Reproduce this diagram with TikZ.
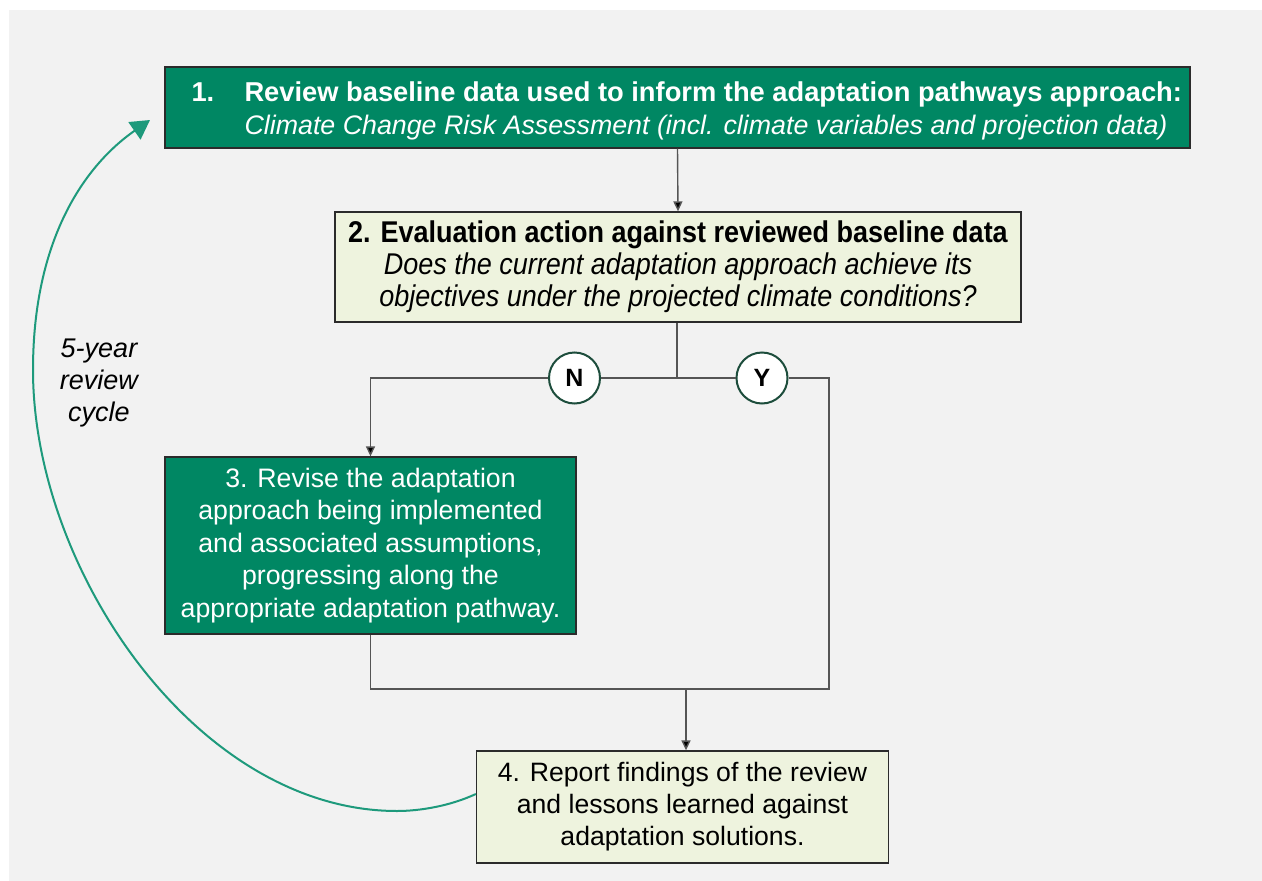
\documentclass[tikz,border=0pt]{standalone}
\usepackage{fontspec}
\setmainfont{Liberation Sans}
\newfontfamily\narrowfont[FakeStretch=0.9]{Liberation Sans}
\usetikzlibrary{arrows.meta}
\definecolor{bggrey}{HTML}{F2F2F2}
\definecolor{dkgreen}{HTML}{008763}
\definecolor{ltgreen}{HTML}{EEF3DE}
\definecolor{cyclegreen}{HTML}{1E9A7C}
\definecolor{circedge}{HTML}{1D4D3C}
\definecolor{boxedge}{HTML}{2B2B2B}
\definecolor{linegrey}{HTML}{555555}
\tikzset{
  darkbox/.style={draw=boxedge, line width=1.3pt, fill=dkgreen, text=white, inner sep=0pt, align=center},
  lightbox/.style={draw=boxedge, line width=1.3pt, fill=ltgreen, text=black, inner sep=0pt, align=center},
  decision/.style={circle, draw=circedge, line width=2pt, fill=white, minimum size=51pt, inner sep=0pt, font=\fontsize{25}{28}\selectfont\bfseries},
  conn/.style={draw=linegrey, line width=1.4pt},
  connarrow/.style={conn, -{Triangle[width=9pt,length=10pt,fill=black]}},
  cycle/.style={draw=cyclegreen, line width=2pt, -{Triangle[width=21pt,length=19pt]}},
}
\begin{document}
\begin{tikzpicture}[x=1pt,y=-1pt]
\useasboundingbox (0,0) rectangle (1262,881);
\fill[white] (0,0) rectangle (1262,881);
\fill[bggrey] (9,10) rectangle (1262,881);

\node[darkbox, minimum width=1025pt, minimum height=81pt] (b1) at (677.5,107.5) {};
\node[text=white, anchor=west, align=left, font=\fontsize{27.3}{33}\selectfont] (t1) at (188,110.5)
  {\textbf{\makebox[53pt][l]{1.}Review baseline data used to inform the adaptation pathways approach:}\\
   \hspace*{53pt}{\fontsize{26.8}{33}\selectfont\itshape Climate Change Risk Assessment (incl. climate variables and projection data)}};

\node[lightbox, minimum width=686pt, minimum height=110pt,
  font=\narrowfont\fontsize{30}{32}\selectfont] (b2) at (678,267)
  {\textbf{2. Evaluation action against reviewed baseline data}\\
   \textit{Does the current adaptation approach achieve its}\\
   \textit{objectives under the projected climate conditions?}};

\node[darkbox, minimum width=411pt, minimum height=177pt,
  font=\fontsize{26.7}{32.5}\selectfont] (b3) at (370.5,545.5)
  {3. Revise the adaptation\\approach being implemented\\and associated assumptions,\\progressing along the\\appropriate adaptation pathway.};

\node[lightbox, minimum width=412pt, minimum height=112pt,
  font=\fontsize{26.6}{32}\selectfont] (b4) at (682.5,807)
  {4. Report findings of the review\\and lessons learned against\\adaptation solutions.};

\node[decision] (n) at (574.5,378) {N};
\node[decision] (y) at (762,378) {Y};

\node[align=center, font=\fontsize{27}{32}\selectfont\itshape] (lbl) at (99,383)
  {5-year\\review\\cycle};

\coordinate (j1) at (677,378);
\coordinate (jr) at (829,689);
\coordinate (j2) at (686,689);

\draw[connarrow] (b1.south) -- (b2.north);
\draw[conn] (b2.south -| j1) -- (j1);
\draw[conn] (n.east) -- (j1) -- (y.west);
\draw[connarrow] (n.west) -| (b3.north);
\draw[conn] (y.east) -| (jr) -- (b3.south |- jr) -- (b3.south);
\draw[connarrow] (j2) -- (j2 |- b4.north);

\coordinate (cs) at (b4.west |- 0,794);
\coordinate (cb) at (397,811);
\coordinate (cl) at (33,370);
\coordinate (ce) at (150,120);
\draw[cycle] (cs) .. controls (450,806) and (420,811) .. (cb)
  .. controls (197,811) and (33,570) .. (cl)
  .. controls (33,240) and (84,166) .. (ce);
\end{tikzpicture}
\end{document}
